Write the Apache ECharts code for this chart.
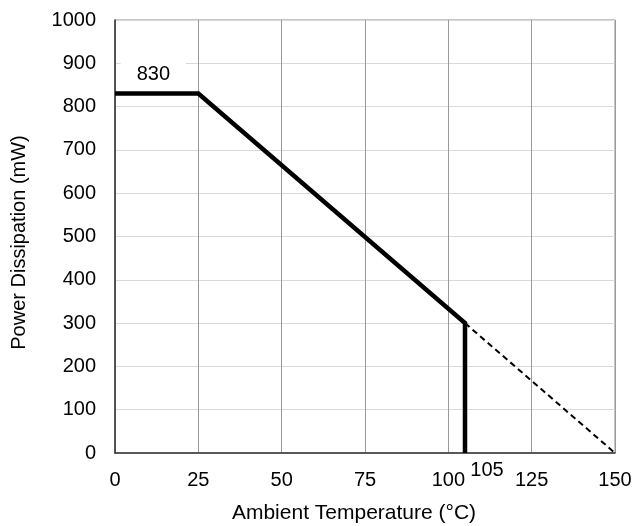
<!DOCTYPE html>
<html><head><meta charset="utf-8">
<script src="https://cdn.jsdelivr.net/npm/echarts@6/dist/echarts.min.js"></script>
<style>html,body{margin:0;padding:0;background:#fff}#c{width:633px;height:526px}</style>
</head><body><div id="c"></div>
<script>
const xTicks = [0, 25, 50, 75, 100, 125, 150];
const yTicks = [0, 100, 200, 300, 400, 500, 600, 700, 800, 900, 1000];
const deratingTemps = [0, 25, 105, 105];
const deratingPower = [830, 830, 300, 0];
const extrapTemps = [105, 150];
const extrapPower = [300, 0];
const maxPowerLabel = '830';
const maxPowerLabelTemp = 11.5;
const maxTempLabel = '105';
const maxTemp = 105;

const F = 'Liberation Sans, Arial, sans-serif';
const chart = echarts.init(document.getElementById('c'), null, {renderer: 'canvas'});
chart.setOption({
  animation: false,
  backgroundColor: '#fff',
  grid: {left: 115, right: 18, top: 20, bottom: 73, show: true, borderColor: '#8c8c8c', borderWidth: 1,
    containLabel: false, outerBoundsMode: 'none'},
  xAxis: {
    type: 'value', min: xTicks[0], max: xTicks[xTicks.length - 1], interval: 25,
    name: 'Ambient Temperature (°C)', nameLocation: 'middle', nameGap: 50,
    nameTextStyle: {fontFamily: F, fontSize: 21, color: '#000', padding: [0, 22, 0, 0]},
    axisLine: {show: true, onZero: false, lineStyle: {color: '#333', width: 1.5}},
    axisTick: {show: false},
    axisLabel: {fontFamily: F, fontSize: 20, color: '#000', margin: 17, formatter: v => String(v)},
    splitLine: {show: true, lineStyle: {color: '#999', width: 1}}
  },
  yAxis: {
    type: 'value', min: yTicks[0], max: yTicks[yTicks.length - 1], interval: 100,
    name: 'Power Dissipation (mW)', nameLocation: 'middle', nameGap: 86,
    nameTextStyle: {fontFamily: F, fontSize: 20, color: '#000', padding: [0, 12, 0, 0]},
    axisLine: {show: true, onZero: false, lineStyle: {color: '#333', width: 1.5}},
    axisTick: {show: false},
    axisLabel: {fontFamily: F, fontSize: 20, color: '#000', margin: 19, formatter: v => String(v)},
    splitLine: {show: true, lineStyle: {color: '#d9d9d9', width: 1}}
  },
  series: [
    {
      type: 'scatter', z: 1, symbolSize: 0, silent: true, itemStyle: {opacity: 1},
      data: [[maxPowerLabelTemp, deratingPower[0]]],
      label: {show: true, position: 'top', distance: 7, formatter: maxPowerLabel,
        fontFamily: F, fontSize: 20, color: '#000', textBorderWidth: 0,
        backgroundColor: '#fff', padding: [14, 16, 2, 16]}
    },
    {
      type: 'line', z: 3, symbol: 'none', silent: true,
      data: extrapTemps.map((t, i) => [t, extrapPower[i]]),
      lineStyle: {color: '#000', width: 2, type: [6, 4]}
    },
    {
      type: 'line', z: 4, symbol: 'none', silent: true,
      data: deratingTemps.map((t, i) => [t, deratingPower[i]]),
      lineStyle: {color: '#000', width: 4.5, join: 'miter', cap: 'butt'}
    },
    {
      type: 'scatter', z: 5, symbolSize: 0, silent: true, clip: false, itemStyle: {opacity: 1},
      data: [[maxTemp, 0]],
      label: {show: true, position: 'inside', offset: [22, 17], formatter: maxTempLabel,
        fontFamily: F, fontSize: 20, color: '#000', textBorderWidth: 0}
    }
  ]
});
</script></body></html>
